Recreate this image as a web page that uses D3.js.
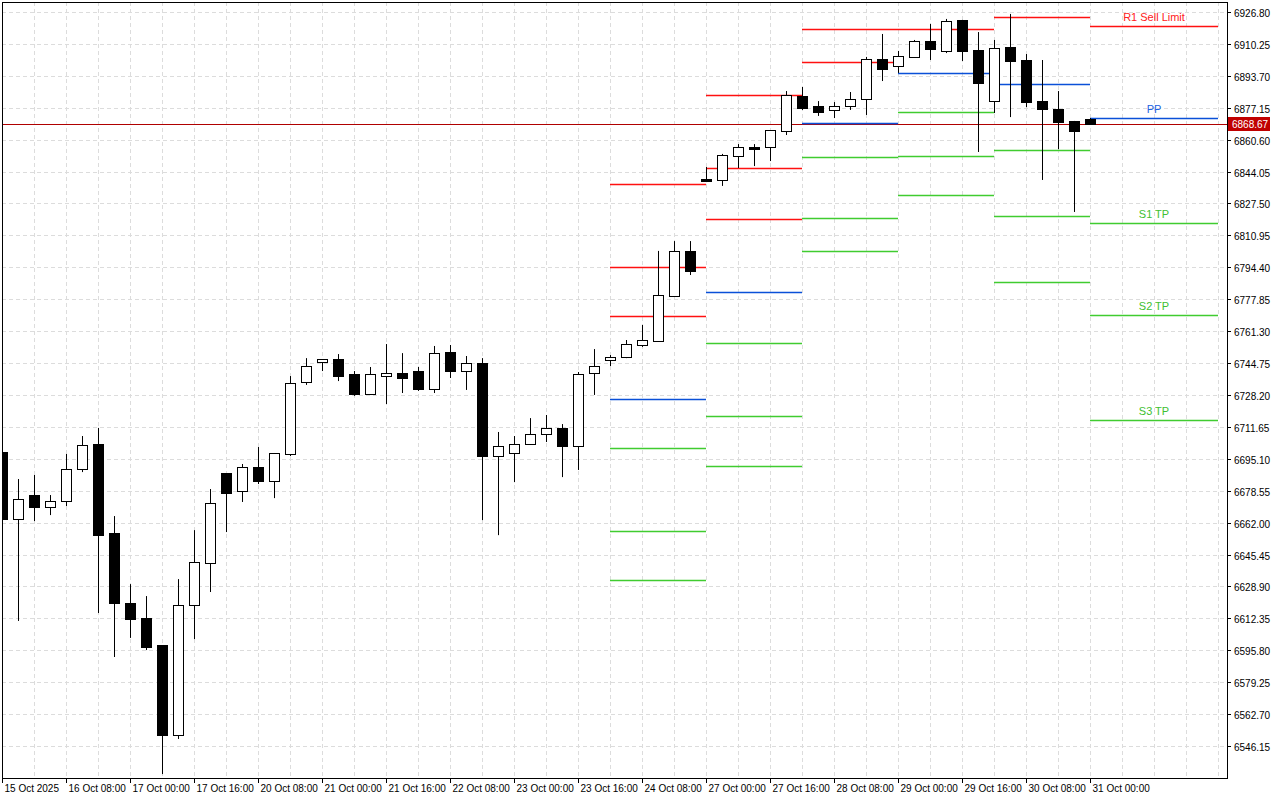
<!DOCTYPE html>
<html><head><meta charset="utf-8">
<script src="https://cdn.jsdelivr.net/npm/d3@7/dist/d3.min.js"></script>
<style>body{margin:0;background:#fff}svg{display:block}</style>
</head><body><svg id="c" width="1280" height="800"></svg>
<script>
// OHLC per 4h candle
const candles = [
[6698.5,6699.5,6662.5,6663.9],[6663.9,6684.6,6611.0,6674.2],[6676.3,6686.7,6662.8,6670.1],[6670.1,6676.3,6665.9,6673.2],
[6673.2,6697.6,6670.6,6689.8],[6689.8,6706.9,6688.2,6702.2],[6702.8,6711.1,6615.1,6655.5],[6656.6,6665.4,6592.3,6620.3],
[6620.3,6630.1,6602.2,6612.0],[6612.5,6623.9,6595.9,6597.5],[6598.5,6598.5,6531.6,6551.8],[6551.8,6632.7,6549.8,6619.3],
[6619.3,6658.1,6601.6,6641.5],[6641.0,6679.4,6626.0,6672.1],[6687.7,6687.7,6657.1,6677.3],[6678.4,6692.4,6672.7,6690.8],
[6690.8,6701.2,6682.0,6683.6],[6683.6,6698.1,6674.7,6698.1],[6697.6,6738.0,6696.5,6734.4],[6734.9,6747.3,6733.4,6743.2],
[6745.3,6746.8,6740.6,6746.8],[6746.8,6749.4,6735.4,6738.0],[6739.1,6740.6,6727.7,6728.7],[6728.7,6742.7,6728.7,6739.1],
[6738.0,6754.6,6723.5,6739.6],[6739.6,6749.9,6729.2,6737.0],[6740.6,6742.7,6730.3,6731.3],[6731.3,6753.6,6729.2,6749.9],
[6750.5,6754.1,6737.0,6740.6],[6740.6,6748.4,6730.8,6744.8],[6744.8,6747.3,6663.3,6696.5],[6696.5,6709.0,6655.5,6701.7],
[6698.1,6706.9,6683.0,6702.8],[6702.8,6716.2,6702.8,6707.9],[6707.9,6717.8,6703.8,6711.1],[6711.1,6713.1,6685.6,6701.7],
[6701.7,6740.1,6689.3,6739.1],[6739.6,6752.0,6728.2,6743.2],[6746.3,6748.9,6743.2,6747.9],[6747.9,6756.7,6747.3,6754.6],
[6754.1,6764.5,6753.1,6756.7],[6756.2,6802.9,6755.7,6780.0],[6779.5,6808.0,6779.0,6802.9],[6802.9,6808.0,6790.4,6792.5],
[6840.2,6846.4,6838.6,6839.2],[6839.7,6853.2,6836.6,6852.6],[6852.1,6858.3,6845.9,6856.8],[6856.8,6858.3,6846.9,6855.7],
[6856.8,6865.6,6849.5,6865.6],[6865.1,6885.8,6863.0,6883.8],[6883.2,6887.9,6876.0,6877.0],[6878.0,6880.6,6872.9,6874.9],
[6876.0,6880.1,6871.8,6878.0],[6878.0,6885.3,6876.0,6881.7],[6881.7,6903.5,6873.4,6902.4],[6902.4,6915.4,6891.0,6897.3],
[6898.8,6906.6,6895.2,6903.9],[6903.5,6912.3,6903.5,6911.8],[6911.8,6920.6,6901.9,6907.6],[6906.6,6923.2,6905.5,6922.1],
[6922.7,6922.7,6901.4,6906.6],[6907.1,6916.4,6854.2,6890.0],[6880.6,6912.3,6874.4,6908.1],[6908.6,6925.8,6872.3,6901.4],
[6901.9,6905.0,6877.5,6880.1],[6880.6,6901.9,6839.7,6876.5],[6876.5,6885.8,6855.7,6869.8],[6870.3,6870.3,6823.1,6865.1],
[6871.3,6871.8,6868.67,6868.67]
];
// pivot level segments: [startIndex, endIndex, R levels, PP, S levels]
const pivotStarts = [38,44,50,56,62,68];
const pivotEnds   = [44,50,56,62,68,76];
const pivotR  = [[6837.6,6794.6,6769.1],[6883.8,6845.9,6819.4],[6918.0,6900.9],[6918.0],[6924.2],[6919.5]];
const pivotPP = [6726.1,6781.6,6869.0,6895.2,6889.5,6871.8];
const pivotS  = [[6700.7,6657.6,6632.2],[6755.1,6717.3,6691.3],[6851.6,6820.0,6802.9],[6874.9,6852.1,6831.9],[6855.2,6821.0,6786.8],[6817.4,6769.7,6715.2]];
const lastLabels = {R:["R1 Sell Limit"], PP:"PP", S:["S1 TP","S2 TP","S3 TP"]};
const yTicks = [6926.80,6910.25,6893.70,6877.15,6860.60,6844.05,6827.50,6810.95,6794.40,6777.85,6761.30,6744.75,6728.20,6711.65,6695.10,6678.55,6662.00,6645.45,6628.90,6612.35,6595.80,6579.25,6562.70,6546.15];
const xLabels = ["15 Oct 2025","16 Oct 08:00","17 Oct 00:00","17 Oct 16:00","20 Oct 08:00","21 Oct 00:00","21 Oct 16:00","22 Oct 08:00","23 Oct 00:00","23 Oct 16:00","24 Oct 08:00","27 Oct 00:00","27 Oct 16:00","28 Oct 08:00","29 Oct 00:00","29 Oct 16:00","30 Oct 08:00","31 Oct 00:00"];
const lastPrice = 6868.67;

const svg = d3.select("#c");
const L=2,R=1227,T=2,B=778;
const y = d3.scaleLinear().domain([6546.15,6926.80]).range([746,12]);
const x = d3.scaleLinear().domain([0,1]).range([2,18]);
const font = "'Liberation Sans', Arial, sans-serif";
const g = svg.append("g");
g.append("defs").append("clipPath").attr("id","pc").append("rect").attr("x",L).attr("y",T).attr("width",R-L).attr("height",B-T);
const plot = g.append("g").attr("clip-path","url(#pc)");
yTicks.forEach(v=>plot.append("line").attr("x1",L).attr("x2",R).attr("y1",Math.round(y(v))+.5).attr("y2",Math.round(y(v))+.5)
  .attr("stroke","#dcdcdc").attr("stroke-dasharray","4,3"));
for(let i=2;i<=76;i+=2){ const xx=Math.round(x(i))+.5;
  plot.append("line").attr("x1",xx).attr("x2",xx).attr("y1",T).attr("y2",B).attr("stroke","#dcdcdc").attr("stroke-dasharray","4,3"); }
plot.append("line").attr("x1",L).attr("x2",R).attr("y1",Math.round(y(lastPrice))+.5).attr("y2",Math.round(y(lastPrice))+.5).attr("stroke","#b00000");
const seg=(i,v,c)=>plot.append("line").attr("x1",x(pivotStarts[i])).attr("x2",x(pivotEnds[i])).attr("y1",Math.round(y(v))+.5).attr("y2",Math.round(y(v))+.5).attr("stroke",c).attr("stroke-width",1.3);
pivotStarts.forEach((s,i)=>{
  pivotR[i].forEach(v=>seg(i,v,"#ff1010"));
  seg(i,pivotPP[i],"#0a50d8");
  pivotS[i].forEach(v=>seg(i,v,"#40cc30"));
});
const li=pivotStarts.length-1, lx=(x(pivotStarts[li])+x(pivotEnds[li]))/2;
const lab=(t,v,c)=>plot.append("text").attr("x",lx).attr("y",y(v)-5).attr("text-anchor","middle").attr("fill",c).attr("font-family",font).attr("font-size",11).text(t);
lastLabels.R.forEach((t,k)=>lab(t,pivotR[li][k],"#ff2020"));
lab(lastLabels.PP,pivotPP[li],"#2060e0");
lastLabels.S.forEach((t,k)=>lab(t,pivotS[li][k],"#40c030"));
candles.forEach((d,i)=>{
  const [o,h,l,c]=d, xx=Math.round(x(i))+.5;
  plot.append("line").attr("x1",xx).attr("x2",xx).attr("y1",y(h)).attr("y2",y(l)).attr("stroke","#000");
  const top=Math.round(y(Math.max(o,c))), bot=Math.round(y(Math.min(o,c)));
  plot.append("rect").attr("x",xx-5).attr("y",top+.5).attr("width",10).attr("height",Math.max(bot-top,1))
    .attr("fill",c>o?"#fff":"#000").attr("stroke","#000");
});
g.append("rect").attr("x",L+.5).attr("y",T+.5).attr("width",R-L).attr("height",B-T).attr("fill","none").attr("stroke","#000");
yTicks.forEach(v=>{const yy=Math.round(y(v))+.5;
  g.append("line").attr("x1",R).attr("x2",R+4).attr("y1",yy).attr("y2",yy).attr("stroke","#000");
  g.append("text").attr("x",R+7).attr("y",yy+4).attr("font-family",font).attr("font-size",10).attr("fill","#000").text(v.toFixed(2));});
const ly=Math.round(y(lastPrice));
g.append("rect").attr("x",R+1).attr("y",ly-7).attr("width",42).attr("height",14).attr("fill","#c00000");
g.append("text").attr("x",R+5).attr("y",ly+4).attr("font-family",font).attr("font-size",10).attr("fill","#fff").text(lastPrice.toFixed(2));
xLabels.forEach((t,k)=>{const xx=Math.round(x(k*4))+.5;
  g.append("line").attr("x1",xx).attr("x2",xx).attr("y1",B).attr("y2",B+5).attr("stroke","#000");
  g.append("text").attr("x",xx+2).attr("y",B+14).attr("font-family",font).attr("font-size",10).attr("fill","#000").text(t);});
</script></body></html>
